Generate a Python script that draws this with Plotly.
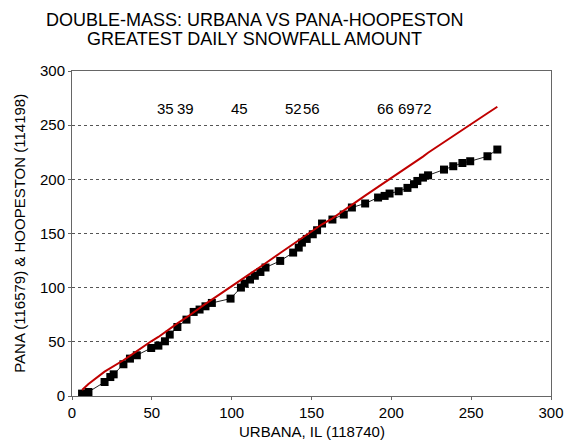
import plotly.graph_objects as go

# Cumulative greatest daily snowfall (inches): Urbana (x) vs Pana-Hoopeston (y)
urbana_cum = [6.3, 10.3, 20.4, 24.0, 26.1, 32.2, 36.3, 40.6, 49.6, 54.1,
              58.2, 61.2, 66.0, 71.7, 76.2, 79.9, 83.6, 87.6, 99.3, 105.8,
              108.1, 111.5, 114.5, 118.0, 121.2, 130.4, 138.5, 142.0, 144.0, 147.0,
              150.8, 153.5, 156.6, 163.1, 170.2, 175.3, 183.6, 191.7, 195.8, 198.9,
              204.6, 210.1, 214.2, 216.3, 219.8, 223.0, 233.0, 238.8, 244.5, 249.4,
              260.2, 266.4]
pana_hoop_cum = [2.2, 3.7, 12.9, 17.5, 20.0, 29.3, 34.5, 37.6, 44.3, 46.5,
                 50.5, 56.7, 63.7, 70.5, 77.6, 79.8, 82.8, 85.9, 89.9, 100.1,
                 103.8, 107.5, 111.0, 114.5, 118.6, 124.7, 132.4, 137.0, 141.6, 145.0,
                 149.3, 153.0, 159.2, 162.9, 167.5, 174.0, 177.7, 183.2, 184.7, 186.9,
                 189.0, 192.1, 195.5, 198.5, 201.6, 203.7, 209.0, 212.1, 215.1, 216.7,
                 221.3, 227.5]

# Expected cumulative line
expected_cum = [5.5, 11.0, 22.5, 25.5, 27.5, 33.0, 37.0, 41.5, 50.5, 54.5,
                59.0, 62.0, 67.0, 72.5, 77.5, 81.0, 85.0, 89.0, 100.5, 107.0,
                109.5, 112.5, 115.5, 119.0, 122.5, 132.0, 140.0, 143.5, 145.5, 148.5,
                152.5, 155.0, 158.5, 164.0, 171.5, 177.0, 185.0, 193.0, 197.0, 200.5,
                206.0, 211.5, 215.5, 217.5, 221.0, 224.5, 234.5, 240.0, 245.5, 250.5,
                261.0, 267.0]

# Year markers (two-digit years) along the top of the plot
year_labels = ["35", "39", "45", "52", "56", "66", "69", "72"]
year_x = [58.3, 71.1, 105.2, 138.5, 150.3, 196.3, 209.2, 220.4]
year_label_y = 265.4

axis_ticks = [0, 50, 100, 150, 200, 250, 300]

FONT = "Liberation Sans, Arial, sans-serif"

fig = go.Figure()

fig.add_trace(go.Scatter(
    x=urbana_cum, y=pana_hoop_cum, mode="lines+markers",
    line=dict(color="#222222", width=1),
    marker=dict(symbol="square", size=8, color="black"),
    showlegend=False, hoverinfo="skip",
))

fig.add_trace(go.Scatter(
    x=urbana_cum, y=expected_cum, mode="lines",
    line=dict(color="#c00000", width=2),
    showlegend=False, hoverinfo="skip",
))

annotations = []
for lab, xv in zip(year_labels, year_x):
    annotations.append(dict(
        x=xv, y=year_label_y, xref="x", yref="y", text=lab, showarrow=False,
        font=dict(family=FONT, size=15, color="black"),
        xanchor="center", yanchor="middle",
    ))

annotations += [
    dict(x=0.380, y=1.157, xref="paper", yref="paper",
         text="DOUBLE-MASS: URBANA VS PANA-HOOPESTON", showarrow=False,
         font=dict(family=FONT, size=18, color="black"),
         xanchor="center", yanchor="middle"),
    dict(x=0.380, y=1.098, xref="paper", yref="paper",
         text="GREATEST DAILY SNOWFALL AMOUNT", showarrow=False,
         font=dict(family=FONT, size=18, color="black"),
         xanchor="center", yanchor="middle"),
    dict(x=0.5, y=-0.110, xref="paper", yref="paper",
         text="URBANA, IL (118740)", showarrow=False,
         font=dict(family=FONT, size=15, color="black"),
         xanchor="center", yanchor="middle"),
    dict(x=-0.110, y=0.5, xref="paper", yref="paper",
         text="PANA (116579) & HOOPESTON (114198)", showarrow=False,
         textangle=-90,
         font=dict(family=FONT, size=15, color="black"),
         xanchor="center", yanchor="middle"),
]

axis_common = dict(
    range=[0, 300], tickvals=axis_ticks, ticktext=[str(t) for t in axis_ticks],
    showline=True, mirror=True, linecolor="#666666", linewidth=1,
    ticks="outside", ticklen=3, tickcolor="#666666",
    tickfont=dict(family=FONT, size=15, color="black"),
    zeroline=False, fixedrange=True,
)

fig.update_layout(
    width=576, height=442,
    margin=dict(l=72, r=15, t=71, b=46),
    paper_bgcolor="white", plot_bgcolor="white",
    xaxis=dict(**axis_common, showgrid=False),
    yaxis=dict(**axis_common, showgrid=True, gridcolor="#555555",
               gridwidth=1, griddash="dot"),
    annotations=annotations,
    font=dict(family=FONT),
)

fig.write_html("out.html")
